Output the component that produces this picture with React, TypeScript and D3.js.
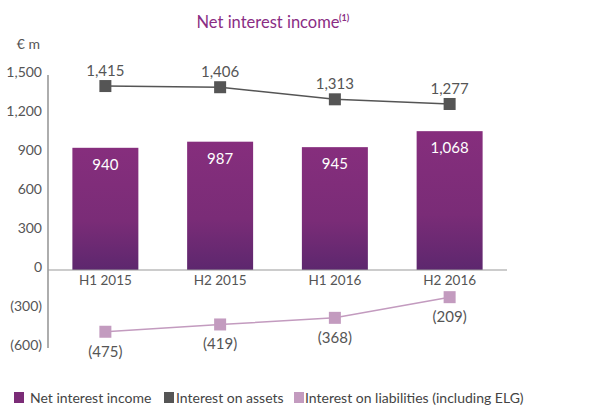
import React from "react";
import * as d3 from "d3";

const categories = ["H1 2015", "H2 2015", "H1 2016", "H2 2016"];
const netInterestIncome = [940, 987, 945, 1068];
const interestOnAssets = [1415, 1406, 1313, 1277];
const interestOnLiabilities = [-475, -419, -368, -209];
const yTicks = [1500, 1200, 900, 600, 300, 0, -300, -600];

const W = 606, H = 407;
const FONT = "Lato, sans-serif";
const fmt = (v: number) => (v < 0 ? `(${d3.format(",")(-v)})` : d3.format(",")(v));

export default function App() {
  const x = d3.scaleBand<string>().domain(categories).range([48, 507]).paddingInner(0.425).paddingOuter(0.2125);
  const y = d3.scaleLinear().domain([-600, 1500]).range([348, 75]);
  const cx = (c: string) => (x(c) as number) + x.bandwidth() / 2;
  const line = d3.line<number>().x((_, i) => cx(categories[i])).y((d) => y(d));
  const sq = 12;
  return (
    <svg width={W} height={H} style={{ position: "absolute", left: 0, top: 0, fontFamily: FONT }}>
      <defs>
        <linearGradient id="barGrad" x1="0" y1="0" x2="0" y2="1">
          <stop offset="0%" stopColor="#862e7d" />
          <stop offset="60%" stopColor="#7a2c77" />
          <stop offset="100%" stopColor="#5d276e" />
        </linearGradient>
      </defs>
      <text x={268} y={28} textAnchor="middle" fill="#8a2d84" fontSize={16.5}>
        Net interest income
      </text>
      <text x={339} y={21} fill="#8a2d84" fontSize={9} fontWeight="bold">(1)</text>
      <text x={40} y={49} textAnchor="end" fill="#555" fontSize={14}>€ m</text>
      {yTicks.map((t) => (
        <text key={t} x={42} y={y(t) + 2} textAnchor="end" fill="#555" fontSize={14}>{fmt(t)}</text>
      ))}
      <line x1={48} x2={48} y1={y(1500)} y2={y(-600)} stroke="#777" strokeWidth={1.2} />
      {categories.map((c, i) => (
        <rect key={c} x={x(c)} width={x.bandwidth()} y={y(netInterestIncome[i])} height={y(0) - y(netInterestIncome[i])} fill="url(#barGrad)" />
      ))}
      <line x1={48} x2={507} y1={y(0)} y2={y(0)} stroke="#999" strokeWidth={1.2} />
      {categories.map((c) => (
        <text key={c} x={cx(c)} y={y(0) + 15} textAnchor="middle" fill="#555" fontSize={13.5}>{c}</text>
      ))}
      {categories.map((c, i) => (
        <text key={c} x={cx(c)} y={y(netInterestIncome[i]) + 22} textAnchor="middle" fill="#fff" fontSize={15}>{fmt(netInterestIncome[i])}</text>
      ))}
      <path d={line(interestOnAssets) || ""} fill="none" stroke="#555" strokeWidth={1.5} />
      <path d={line(interestOnLiabilities) || ""} fill="none" stroke="#c39bbf" strokeWidth={1.5} />
      {categories.map((c, i) => (
        <g key={c}>
          <rect x={cx(c) - sq / 2} y={y(interestOnAssets[i]) - sq / 2} width={sq} height={sq} fill="#555" />
          <text x={cx(c)} y={y(interestOnAssets[i]) - 10} textAnchor="middle" fill="#555" fontSize={15}>{fmt(interestOnAssets[i])}</text>
          <rect x={cx(c) - sq / 2} y={y(interestOnLiabilities[i]) - sq / 2} width={sq} height={sq} fill="#c39bbf" />
          <text x={cx(c)} y={y(interestOnLiabilities[i]) + 25} textAnchor="middle" fill="#555" fontSize={15}>{fmt(interestOnLiabilities[i])}</text>
        </g>
      ))}
      <g fontSize={14} fill="#444">
        <rect x={14} y={392} width={10} height={11} fill="#7b2c77" />
        <text x={30} y={403}>Net interest income</text>
        <rect x={164} y={392} width={10} height={11} fill="#555" />
        <text x={176} y={403}>Interest on assets</text>
        <rect x={294} y={392} width={10} height={11} fill="#c39bbf" />
        <text x={305} y={403}>Interest on liabilities (including ELG)</text>
      </g>
    </svg>
  );
}
